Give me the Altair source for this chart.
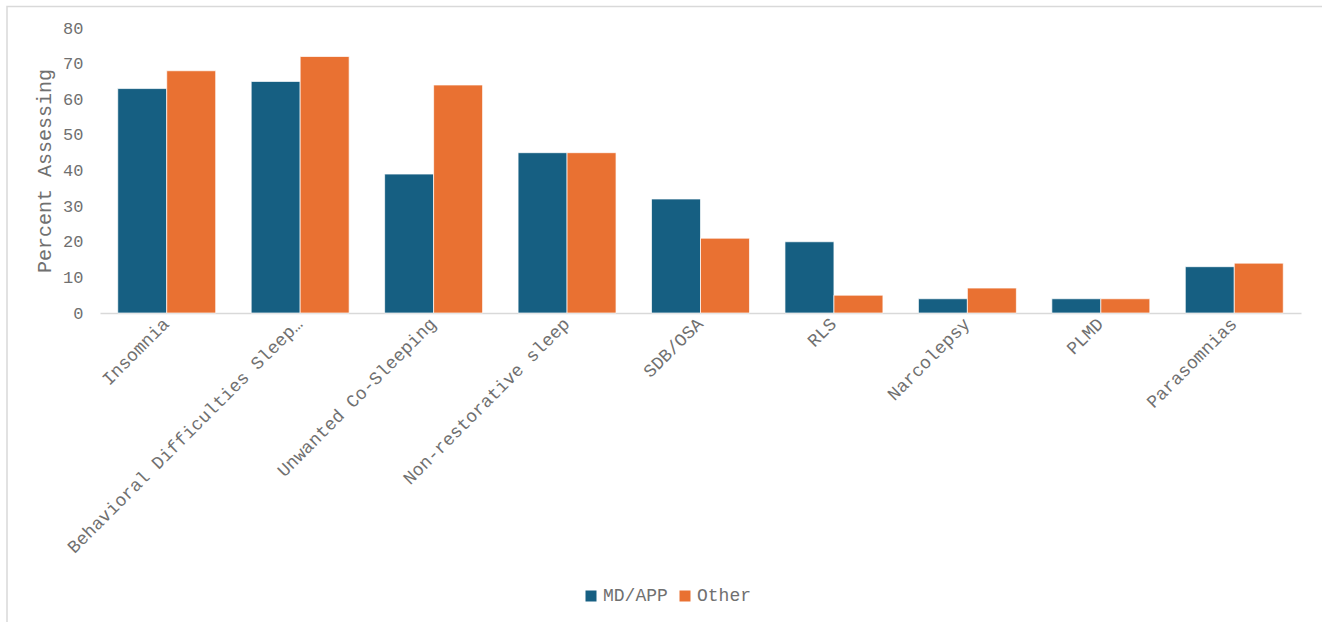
import altair as alt
import pandas as pd

categories = ["Insomnia", "Behavioral Difficulties Sleep…", "Unwanted Co-Sleeping",
              "Non-restorative sleep", "SDB/OSA", "RLS", "Narcolepsy", "PLMD", "Parasomnias"]
md_app = [63, 65, 39, 45, 32, 20, 4, 4, 13]
other = [68, 72, 64, 45, 21, 5, 7, 4, 14]
series = ["MD/APP", "Other"]
colors = ["#165f82", "#e97132"]

rows = []
for c, a, b in zip(categories, md_app, other):
    rows.append({"cat": c, "series": series[0], "val": a})
    rows.append({"cat": c, "series": series[1], "val": b})
df = pd.DataFrame(rows)

FONT = "Liberation Mono"
GRAY = "#707070"

bars = alt.Chart(df).mark_bar(stroke="white", strokeWidth=0.7).encode(
    x=alt.X("cat:N", sort=categories, title=None,
            scale=alt.Scale(paddingInner=0.266, paddingOuter=0.133),
            axis=alt.Axis(labelAngle=-45, labelAlign="right", labelBaseline="middle",
                          labelFont=FONT, labelFontSize=18, labelColor=GRAY,
                          ticks=False, domain=True, domainColor="#d9d9d9", domainWidth=1.5,
                          labelPadding=8, labelLimit=500)),
    xOffset=alt.XOffset("series:N", sort=series),
    y=alt.Y("val:Q", title="Percent Assessing",
            scale=alt.Scale(domain=[0, 80], nice=False),
            axis=alt.Axis(values=list(range(0, 81, 10)), grid=False, domain=False, ticks=False,
                          labelFont=FONT, labelFontSize=17, labelColor=GRAY, labelPadding=17,
                          titleFont=FONT, titleFontSize=20, titleFontWeight="normal",
                          titleColor=GRAY, titlePadding=8)),
    color=alt.Color("series:N", sort=series,
                    scale=alt.Scale(domain=series, range=colors),
                    legend=alt.Legend(title=None, orient="none", direction="horizontal",
                                      legendX=482, legendY=559, symbolType="square",
                                      symbolSize=121, symbolStrokeWidth=0,
                                      labelFont=FONT, labelFontSize=18, labelColor=GRAY,
                                      labelOffset=3, columnPadding=8)),
)

border = alt.Chart(pd.DataFrame({"k": [0]})).mark_rect(
    fill=None, stroke="#d9d9d9", strokeWidth=1.5
).encode(x=alt.value(-93), x2=alt.value(1240), y=alt.value(-21.5), y2=alt.value(620))

chart = alt.layer(border, bars).properties(
    width=1201, height=285,
    background="white",
    autosize=alt.AutoSizeParams(type="none"),
    padding={"left": 100, "top": 28, "right": 21, "bottom": 309},
).configure_view(strokeWidth=0, stroke="transparent")

chart.save("out.html", embed_options={"renderer": "svg", "actions": False})
